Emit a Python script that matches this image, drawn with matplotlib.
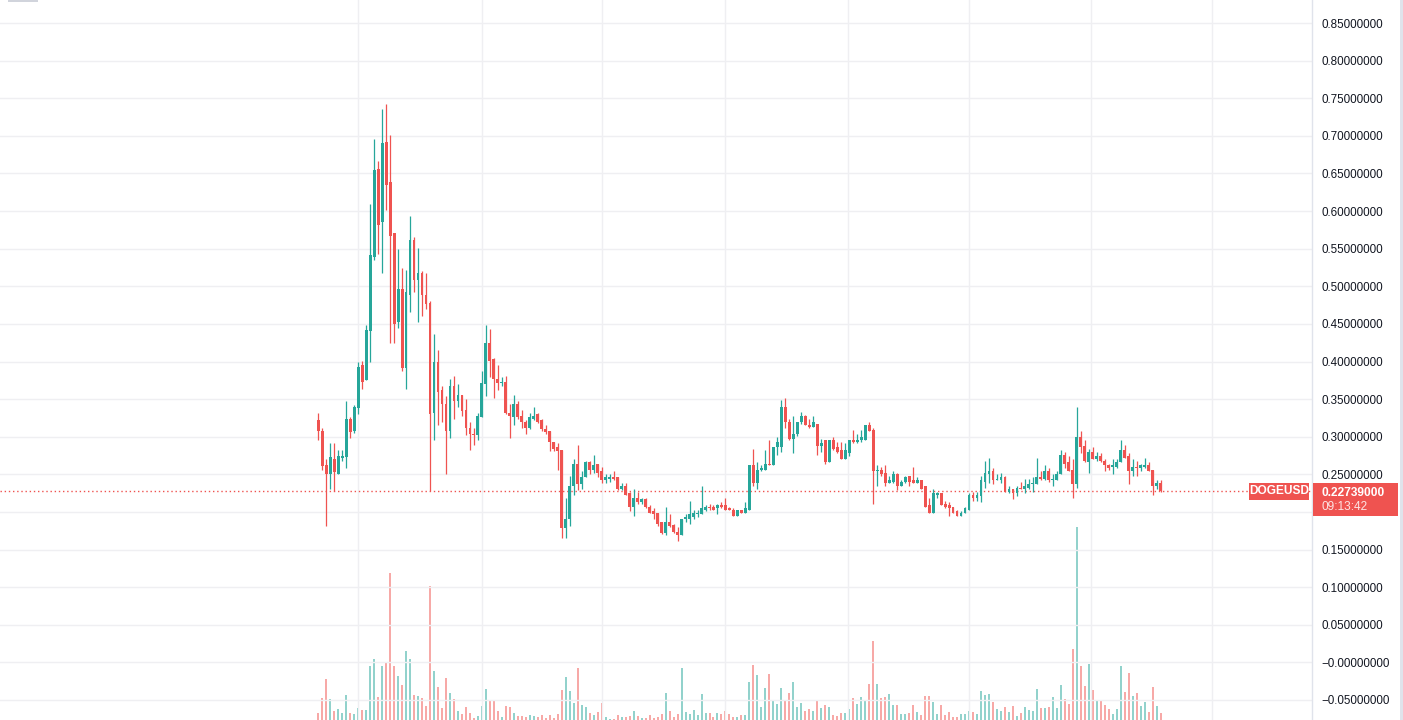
import matplotlib
matplotlib.use("Agg")
import matplotlib.pyplot as plt
from matplotlib.patches import Rectangle
import numpy as np

# ---------------- data (daily DOGEUSD candles) ----------------
opens = [0.322, 0.308, 0.262, 0.251, 0.271, 0.251, 0.272, 0.273, 0.324, 0.307,
         0.338, 0.395, 0.375, 0.441, 0.539, 0.656, 0.585, 0.692, 0.639, 0.571,
         0.452, 0.496, 0.392, 0.489, 0.561, 0.509, 0.517, 0.489, 0.478, 0.331,
         0.399, 0.362, 0.344, 0.307, 0.367, 0.347, 0.355, 0.335, 0.312, 0.304,
         0.302, 0.326, 0.370, 0.425, 0.403, 0.377, 0.371, 0.373, 0.332, 0.326,
         0.344, 0.328, 0.319, 0.312, 0.324, 0.330, 0.322, 0.310, 0.307, 0.293,
         0.286, 0.282, 0.178, 0.190, 0.234, 0.264, 0.237, 0.247, 0.266, 0.256,
         0.264, 0.255, 0.243, 0.244, 0.247, 0.246, 0.230, 0.235, 0.225, 0.206,
         0.219, 0.213, 0.217, 0.207, 0.201, 0.198, 0.186, 0.172, 0.187, 0.182,
         0.174, 0.170, 0.190, 0.190, 0.193, 0.197, 0.197, 0.203, 0.206, 0.206,
         0.205, 0.209, 0.209, 0.205, 0.203, 0.195, 0.202, 0.199, 0.203, 0.262,
         0.239, 0.256, 0.256, 0.264, 0.263, 0.287, 0.287, 0.340, 0.320, 0.297,
         0.303, 0.319, 0.328, 0.316, 0.313, 0.317, 0.288, 0.295, 0.267, 0.295,
         0.287, 0.282, 0.271, 0.278, 0.295, 0.293, 0.295, 0.296, 0.315, 0.309,
         0.254, 0.256, 0.252, 0.239, 0.240, 0.251, 0.234, 0.240, 0.248, 0.242,
         0.239, 0.242, 0.234, 0.209, 0.199, 0.223, 0.225, 0.210, 0.209, 0.206,
         0.201, 0.195, 0.198, 0.203, 0.223, 0.218, 0.221, 0.240, 0.251, 0.254,
         0.242, 0.243, 0.247, 0.227, 0.231, 0.225, 0.232, 0.231, 0.232, 0.237,
         0.237, 0.247, 0.244, 0.255, 0.242, 0.243, 0.250, 0.276, 0.266, 0.256,
         0.237, 0.300, 0.288, 0.267, 0.280, 0.271, 0.275, 0.268, 0.263, 0.260,
         0.260, 0.266, 0.282, 0.274, 0.254, 0.260, 0.258, 0.260, 0.263, 0.256,
         0.235, 0.238]
highs = [0.332, 0.311, 0.270, 0.291, 0.291, 0.282, 0.282, 0.347, 0.326, 0.342,
         0.399, 0.401, 0.448, 0.610, 0.696, 0.667, 0.736, 0.743, 0.701, 0.571,
         0.549, 0.524, 0.521, 0.593, 0.566, 0.551, 0.520, 0.517, 0.481, 0.436,
         0.415, 0.367, 0.354, 0.377, 0.381, 0.370, 0.355, 0.350, 0.319, 0.312,
         0.331, 0.387, 0.448, 0.443, 0.404, 0.396, 0.379, 0.381, 0.343, 0.356,
         0.347, 0.336, 0.322, 0.332, 0.339, 0.332, 0.323, 0.315, 0.308, 0.293,
         0.291, 0.282, 0.218, 0.248, 0.270, 0.289, 0.255, 0.268, 0.268, 0.276,
         0.264, 0.260, 0.250, 0.251, 0.254, 0.247, 0.239, 0.239, 0.226, 0.230,
         0.226, 0.219, 0.219, 0.209, 0.205, 0.199, 0.187, 0.206, 0.197, 0.184,
         0.180, 0.191, 0.197, 0.215, 0.202, 0.203, 0.234, 0.209, 0.211, 0.209,
         0.211, 0.213, 0.218, 0.206, 0.205, 0.203, 0.203, 0.213, 0.263, 0.284,
         0.267, 0.263, 0.283, 0.295, 0.287, 0.299, 0.349, 0.352, 0.323, 0.328,
         0.320, 0.333, 0.329, 0.324, 0.328, 0.317, 0.297, 0.295, 0.295, 0.300,
         0.293, 0.293, 0.291, 0.295, 0.309, 0.303, 0.309, 0.316, 0.320, 0.311,
         0.263, 0.260, 0.263, 0.248, 0.255, 0.252, 0.242, 0.248, 0.248, 0.260,
         0.247, 0.242, 0.234, 0.219, 0.231, 0.227, 0.225, 0.214, 0.213, 0.207,
         0.203, 0.201, 0.206, 0.225, 0.227, 0.227, 0.248, 0.268, 0.272, 0.258,
         0.251, 0.252, 0.248, 0.234, 0.231, 0.234, 0.240, 0.244, 0.244, 0.247,
         0.272, 0.255, 0.262, 0.258, 0.251, 0.254, 0.283, 0.280, 0.275, 0.270,
         0.340, 0.307, 0.295, 0.284, 0.287, 0.280, 0.279, 0.271, 0.264, 0.270,
         0.270, 0.296, 0.289, 0.278, 0.271, 0.268, 0.264, 0.272, 0.266, 0.256,
         0.242, 0.242]
lows = [0.296, 0.256, 0.181, 0.231, 0.228, 0.250, 0.268, 0.258, 0.298, 0.305,
        0.330, 0.364, 0.375, 0.399, 0.535, 0.543, 0.518, 0.602, 0.425, 0.424,
        0.444, 0.387, 0.363, 0.466, 0.493, 0.453, 0.460, 0.470, 0.228, 0.296,
        0.316, 0.319, 0.251, 0.298, 0.324, 0.339, 0.328, 0.302, 0.282, 0.289,
        0.295, 0.326, 0.354, 0.379, 0.352, 0.362, 0.368, 0.330, 0.298, 0.315,
        0.324, 0.312, 0.303, 0.310, 0.322, 0.318, 0.308, 0.304, 0.281, 0.281,
        0.256, 0.166, 0.165, 0.181, 0.222, 0.229, 0.231, 0.246, 0.251, 0.252,
        0.247, 0.238, 0.238, 0.240, 0.243, 0.229, 0.229, 0.222, 0.201, 0.195,
        0.211, 0.211, 0.205, 0.198, 0.190, 0.181, 0.171, 0.170, 0.180, 0.172,
        0.161, 0.169, 0.187, 0.184, 0.190, 0.193, 0.197, 0.201, 0.203, 0.202,
        0.197, 0.205, 0.203, 0.202, 0.194, 0.194, 0.198, 0.198, 0.203, 0.235,
        0.231, 0.255, 0.256, 0.262, 0.262, 0.276, 0.280, 0.311, 0.295, 0.279,
        0.301, 0.317, 0.315, 0.312, 0.313, 0.276, 0.280, 0.264, 0.266, 0.282,
        0.279, 0.270, 0.270, 0.274, 0.292, 0.292, 0.293, 0.295, 0.307, 0.210,
        0.234, 0.248, 0.235, 0.238, 0.239, 0.229, 0.234, 0.239, 0.234, 0.238,
        0.238, 0.231, 0.206, 0.198, 0.199, 0.218, 0.209, 0.205, 0.194, 0.199,
        0.195, 0.195, 0.198, 0.203, 0.215, 0.215, 0.213, 0.232, 0.239, 0.237,
        0.242, 0.238, 0.227, 0.225, 0.217, 0.221, 0.231, 0.225, 0.231, 0.226,
        0.237, 0.242, 0.242, 0.240, 0.235, 0.242, 0.250, 0.259, 0.254, 0.218,
        0.232, 0.278, 0.267, 0.252, 0.270, 0.268, 0.267, 0.254, 0.256, 0.250,
        0.259, 0.266, 0.272, 0.237, 0.248, 0.248, 0.255, 0.259, 0.255, 0.223,
        0.230, 0.227]
closes = [0.308, 0.261, 0.250, 0.273, 0.253, 0.274, 0.274, 0.324, 0.306, 0.340,
          0.393, 0.373, 0.442, 0.541, 0.655, 0.582, 0.691, 0.635, 0.567, 0.450,
          0.496, 0.392, 0.492, 0.562, 0.509, 0.517, 0.488, 0.477, 0.330, 0.400,
          0.360, 0.343, 0.307, 0.367, 0.347, 0.355, 0.334, 0.311, 0.303, 0.302,
          0.327, 0.372, 0.425, 0.401, 0.377, 0.372, 0.373, 0.332, 0.327, 0.344,
          0.326, 0.319, 0.312, 0.326, 0.328, 0.320, 0.310, 0.306, 0.293, 0.284,
          0.281, 0.178, 0.191, 0.235, 0.264, 0.237, 0.247, 0.266, 0.256, 0.263,
          0.252, 0.243, 0.246, 0.247, 0.244, 0.230, 0.235, 0.223, 0.206, 0.219,
          0.213, 0.217, 0.206, 0.199, 0.197, 0.184, 0.172, 0.187, 0.181, 0.173,
          0.170, 0.191, 0.193, 0.197, 0.198, 0.199, 0.205, 0.206, 0.205, 0.203,
          0.209, 0.206, 0.203, 0.202, 0.195, 0.202, 0.199, 0.205, 0.262, 0.239,
          0.256, 0.259, 0.264, 0.263, 0.287, 0.293, 0.340, 0.319, 0.297, 0.303,
          0.319, 0.328, 0.316, 0.313, 0.319, 0.288, 0.292, 0.267, 0.295, 0.284,
          0.280, 0.271, 0.282, 0.295, 0.293, 0.296, 0.299, 0.315, 0.308, 0.254,
          0.256, 0.251, 0.239, 0.242, 0.251, 0.235, 0.240, 0.247, 0.240, 0.239,
          0.242, 0.231, 0.207, 0.199, 0.225, 0.225, 0.209, 0.207, 0.205, 0.199,
          0.195, 0.199, 0.205, 0.223, 0.218, 0.222, 0.242, 0.252, 0.254, 0.242,
          0.244, 0.247, 0.227, 0.231, 0.225, 0.232, 0.231, 0.234, 0.237, 0.238,
          0.247, 0.244, 0.255, 0.242, 0.244, 0.251, 0.276, 0.264, 0.255, 0.237,
          0.300, 0.287, 0.268, 0.280, 0.271, 0.274, 0.268, 0.262, 0.259, 0.262,
          0.267, 0.282, 0.272, 0.254, 0.260, 0.259, 0.262, 0.263, 0.255, 0.235,
          0.238, 0.22739]
volumes = [21, 66, 123, 63, 27, 33, 21, 75, 21, 18,
           36, 30, 30, 162, 183, 69, 162, 174, 441, 162,
           132, 105, 207, 183, 75, 72, 66, 42, 402, 147,
           99, 36, 126, 81, 63, 27, 18, 39, 21, 6,
           12, 42, 93, 57, 60, 27, 9, 42, 39, 21,
           12, 12, 9, 15, 12, 9, 15, 6, 15, 6,
           18, 90, 129, 87, 51, 156, 45, 39, 21, 15,
           24, 51, 9, 3, 3, 15, 9, 9, 12, 27,
           12, 6, 6, 15, 6, 9, 18, 81, 27, 9,
           18, 156, 24, 18, 30, 15, 78, 21, 21, 9,
           21, 18, 27, 18, 9, 9, 15, 15, 114, 165,
           135, 39, 96, 138, 57, 48, 96, 60, 81, 114,
           39, 51, 27, 33, 27, 57, 36, 45, 39, 15,
           12, 21, 21, 33, 66, 48, 69, 57, 108, 237,
           108, 66, 69, 78, 45, 45, 18, 18, 21, 45,
           24, 15, 72, 72, 54, 18, 45, 15, 24, 9,
           9, 18, 18, 27, 24, 18, 87, 75, 78, 54,
           33, 27, 39, 24, 42, 12, 21, 39, 30, 27,
           93, 36, 36, 39, 69, 36, 105, 63, 48, 213,
           579, 162, 102, 168, 90, 60, 60, 45, 33, 18,
           33, 162, 84, 141, 72, 81, 42, 54, 24, 99,
           42, 21]

symbol = "DOGEUSD"
last_price = 0.22739
countdown = "09:13:42"
price_ticks = [0.85, 0.80, 0.75, 0.70, 0.65, 0.60, 0.55, 0.50, 0.45, 0.40,
               0.35, 0.30, 0.25, 0.20, 0.15, 0.10, 0.05, 0.00, -0.05]
price_tick_labels = ["0.85000000", "0.80000000", "0.75000000", "0.70000000",
                     "0.65000000", "0.60000000", "0.55000000", "0.50000000",
                     "0.45000000", "0.40000000", "0.35000000", "0.30000000",
                     "0.25000000", "0.20000000", "0.15000000", "0.10000000",
                     "0.05000000", "\u22120.00000000", "\u22120.05000000"]
# month boundaries (in bar index units)
month_grid = [9.94, 41.0, 71.0, 102.0, 132.7, 162.9, 193.5, 223.8]

# ---------------- style ----------------
UP = "#26a69a"
DOWN = "#ef5350"
UP_VOL = "#92d2cc"
DOWN_VOL = "#f7a9a7"
GRID = "#efeff2"
TEXT = "#131722"
plt.rcParams['font.family'] = ['Liberation Sans', 'DejaVu Sans']

W, H = 1403, 720
fig = plt.figure(figsize=(W / 100, H / 100), dpi=100)
fig.patch.set_facecolor("white")

plot_right = 1312
rect = [0, 0, plot_right / W, 1]
ax_vol = fig.add_axes(rect)
ax = fig.add_axes(rect, sharex=ax_vol)
ax.set_zorder(2)
ax.patch.set_alpha(0)

n = len(opens)
x = np.arange(n)
o = np.array(opens); h = np.array(highs); l = np.array(lows); c = np.array(closes)
up = c >= o
col = np.where(up, UP, DOWN)

# x / y ranges chosen so the layout matches the reference
ax.set_xlim(-79.7, 248.9)
ax.set_ylim(-0.0766, 0.8806)

# volume
vcol = np.where(up, UP_VOL, DOWN_VOL)
ax_vol.bar(x, volumes, width=0.5, color=vcol, zorder=1)
ax_vol.set_ylim(0, 2160)
ax_vol.axis("off")

# grid
for gx in month_grid:
    ax.axvline(gx, color=GRID, lw=1.0, zorder=0)
for t in price_ticks:
    ax.axhline(t, color=GRID, lw=1.0, zorder=0)

# candles
ax.vlines(x, l, h, colors=col, lw=0.9, zorder=3)
body_lo = np.minimum(o, c)
body_h = np.maximum(np.abs(c - o), 0.0014)
ax.bar(x, body_h, bottom=body_lo, width=0.72, color=col, lw=0, zorder=4)

# last price line
ax.axhline(last_price, color=DOWN, lw=1.0, ls=(0, (1, 2)), zorder=2)

# axes styling
ax.yaxis.tick_right()
ax.set_yticks(price_ticks)
ax.set_yticklabels(price_tick_labels)
ax.tick_params(axis='y', length=0, pad=7, labelsize=8.4, labelcolor=TEXT)
ax.tick_params(axis='x', length=0, labelbottom=False)
for s in ["top", "left", "bottom"]:
    ax.spines[s].set_visible(False)
ax.spines["right"].set_color("#e0e3eb")
ax.spines["right"].set_linewidth(1.0)

# ---------------- overlays (figure pixel coordinates) ----------------
def fx(px):
    return px / W

def fy(py):
    return 1 - py / H

def box(x0, y0, x1, y1, color, z=10):
    r = Rectangle((fx(x0), fy(y1)), fx(x1) - fx(x0), fy(y0) - fy(y1),
                  transform=fig.transFigure, facecolor=color, edgecolor='none',
                  zorder=z)
    fig.add_artist(r)

# symbol label
box(1249, 483, 1309, 500, DOWN)
fig.text(fx(1279), fy(491.5), symbol, color="white", fontsize=8.6,
         fontweight="bold", ha="center", va="center", zorder=11)
# price label
box(1313, 483, 1398, 516, DOWN)
fig.text(fx(1321), fy(492.5), f"{last_price:.8f}", color="white", fontsize=8.6,
         fontweight="bold", ha="left", va="center", zorder=11)
fig.text(fx(1321), fy(507), countdown, color="#fde4e3", fontsize=8.6,
         ha="left", va="center", zorder=11)

# right edge strip and top-left stub
box(1400, 0, 1403, 720, "#e0e3eb")
box(8, 0, 38, 1.5, "#d1d4dc")

fig.savefig("out.png", dpi=100, facecolor="white")
